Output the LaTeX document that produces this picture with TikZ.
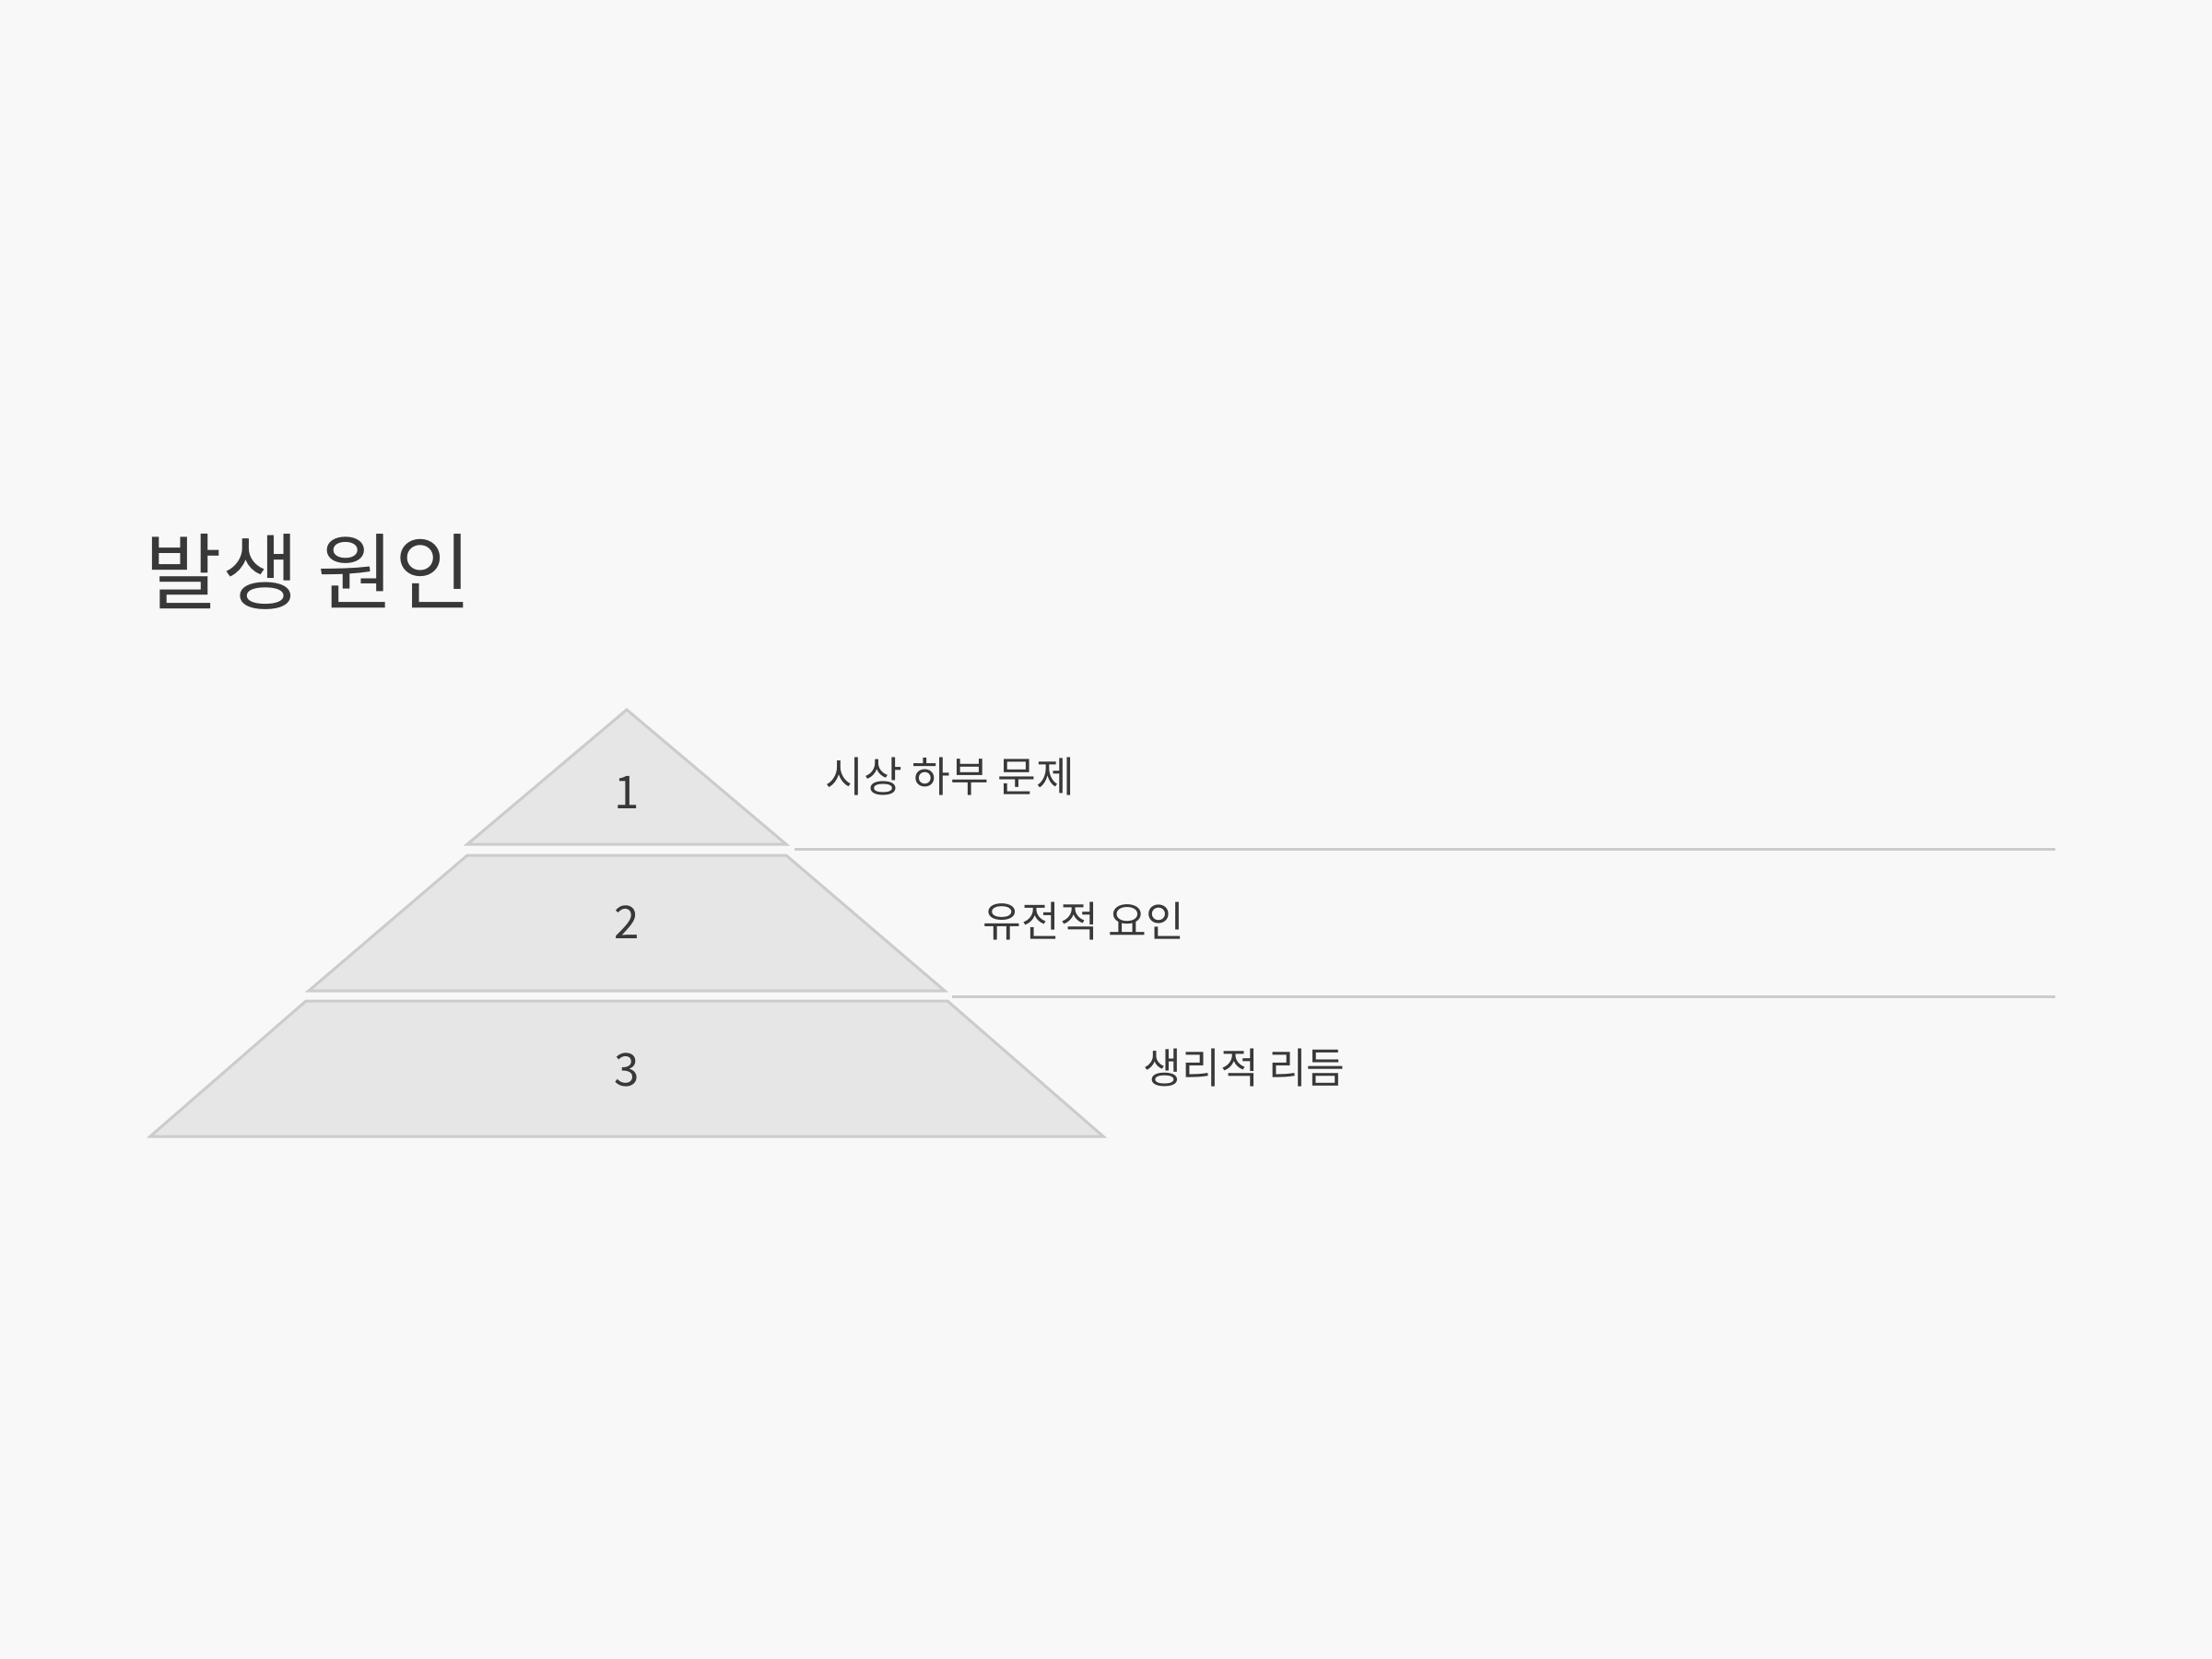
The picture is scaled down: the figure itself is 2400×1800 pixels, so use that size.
\documentclass[tikz,border=0pt]{standalone}
\usepackage{fontspec}
\setmainfont{Noto Sans CJK KR}
\definecolor{bgc}{HTML}{F8F8F8}
\definecolor{tierfill}{HTML}{E6E6E6}
\definecolor{tierline}{HTML}{CCCCCC}
\definecolor{txt}{HTML}{383838}
\tikzset{
  tier/.style={fill=tierfill, draw=tierline, line width=0.85pt, line join=miter},
  sepline/.style={draw=tierline, line width=0.85pt},
  numtxt/.style={text=txt, font=\fontsize{14}{16}\selectfont, inner sep=0pt},
  labtxt/.style={text=txt, font=\fontsize{12.9}{15}\selectfont, inner sep=0pt, anchor=west},
  titletxt/.style={text=txt, font=\fontsize{25.8}{30}\selectfont, inner sep=0pt, anchor=west}
}
\begin{document}
\begin{tikzpicture}[x=0.01cm,y=-0.01cm]
\fill[bgc] (0,0) rectangle (2400,1800);
\useasboundingbox (0,0) rectangle (2400,1800);
% title
\node[titletxt] (title) at (157,620) {발생 원인};
% pyramid tiers
\draw[tier] (680,770) -- (853,916) -- (507,916) -- cycle;
\draw[tier] (507,928) -- (853,928) -- (1025,1075) -- (335,1075) -- cycle;
\draw[tier] (332,1086) -- (1028,1086) -- (1197,1233) -- (163,1233) -- cycle;
% numbers
\node[numtxt] (n1) at (680,860) {1};
\node[numtxt] (n2) at (680,1001) {2};
\node[numtxt] (n3) at (680,1161) {3};
% separator lines
\coordinate (s1a) at (862,921);
\coordinate (s1b) at (2230,921);
\coordinate (s2a) at (1033,1081);
\coordinate (s2b) at (2230,1081);
\draw[sepline] (s1a) -- (s1b);
\draw[sepline] (s2a) -- (s2b);
% labels
\node[labtxt] (l1) at (895,843) {시상 하부 문제};
\node[labtxt] (l2) at (1066,1000) {유전적 요인};
\node[labtxt] (l3) at (1240,1159) {생리적 리듬};
\end{tikzpicture}
\end{document}
